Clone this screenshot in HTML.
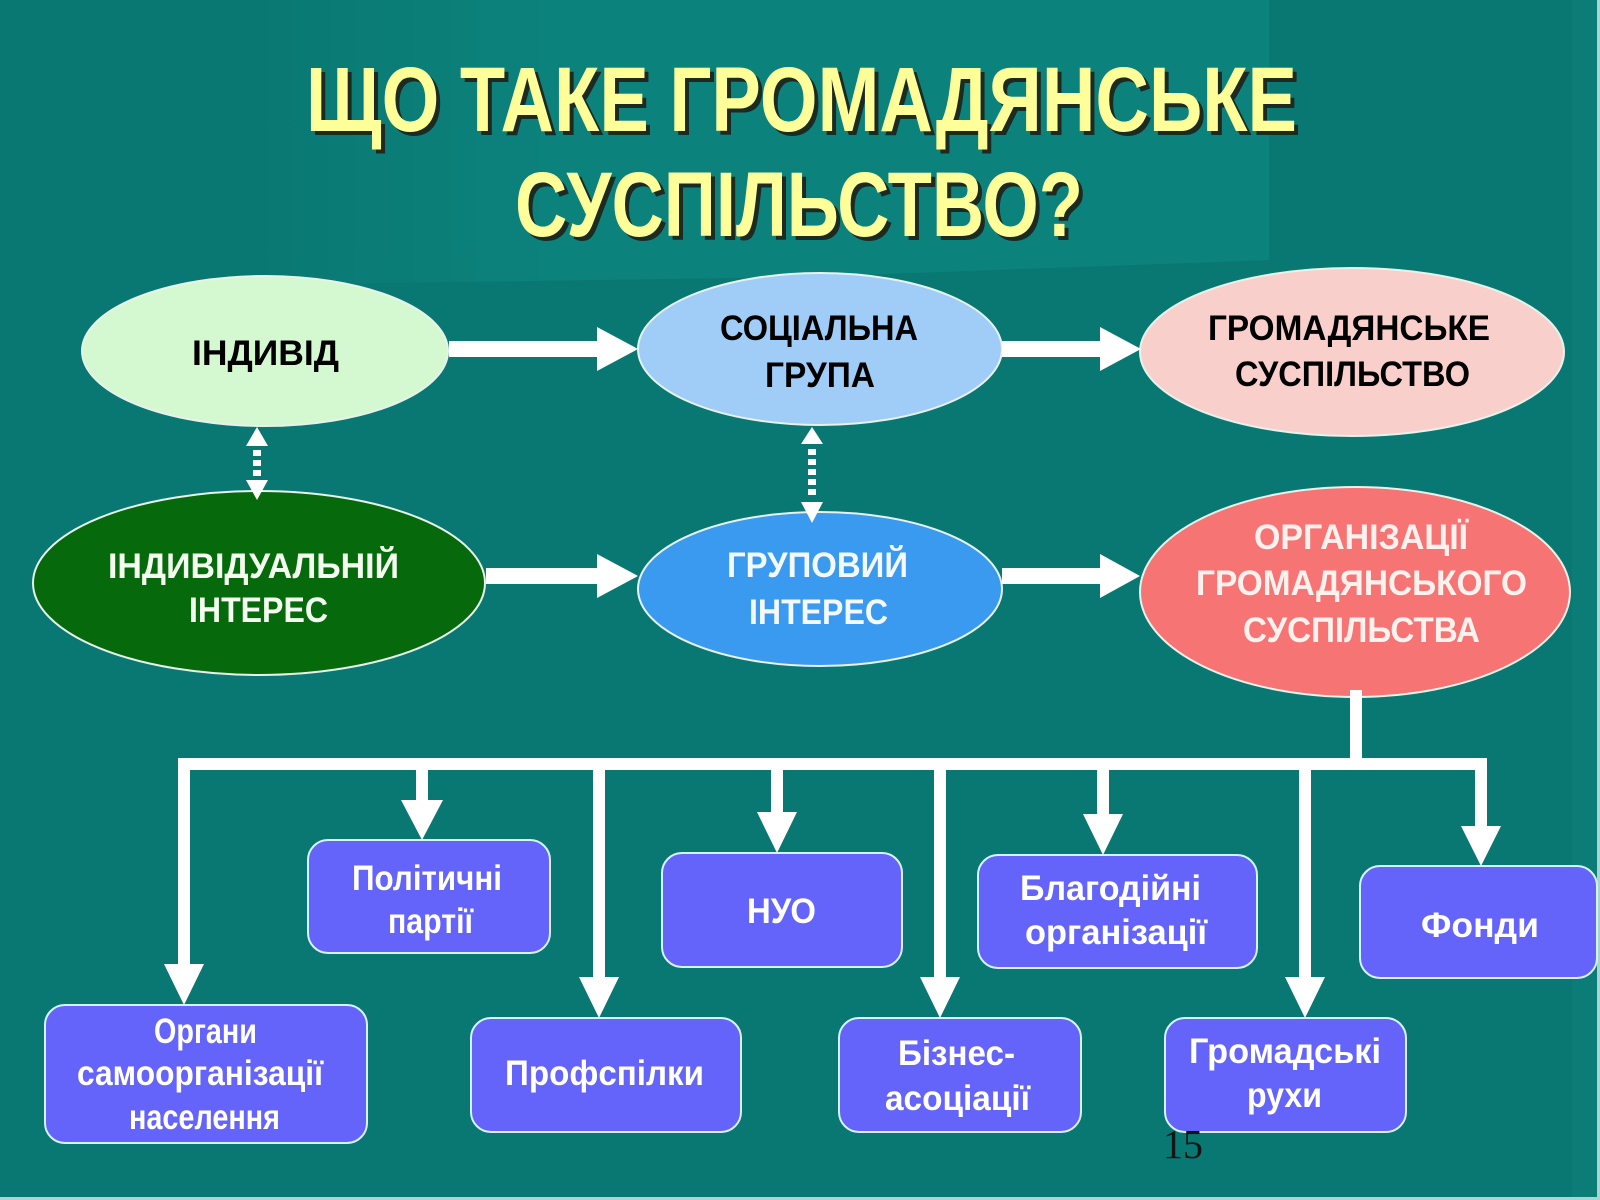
<!DOCTYPE html>
<html>
<head>
<meta charset="utf-8">
<style>
  html,body{margin:0;padding:0;background:#0a7872;}
  svg{display:block;}
  text{font-family:"Liberation Sans","DejaVu Sans",sans-serif;font-weight:bold;}
</style>
</head>
<body>
<svg width="1600" height="1200" viewBox="0 0 1600 1200" xmlns="http://www.w3.org/2000/svg">
  <defs>
    <linearGradient id="band" x1="0" y1="0" x2="1" y2="0">
      <stop offset="0" stop-color="#0c827c" stop-opacity="0"/>
      <stop offset="0.3" stop-color="#0c827c" stop-opacity="1"/>
      <stop offset="1" stop-color="#0c827c" stop-opacity="1"/>
    </linearGradient>
  </defs>
  <!-- background -->
  <rect x="0" y="0" width="1600" height="1200" fill="#0a7872"/>
  <polygon points="250,0 1269,0 1269,260 800,277 250,285" fill="url(#band)"/>
  <rect x="1572" y="0" width="25" height="1197" fill="#0c7d76"/>
  <rect x="1597" y="0" width="3" height="1200" fill="#a8d4d4"/>
  <rect x="0" y="1197" width="1600" height="3" fill="#a8d4d4"/>

  <!-- title -->
  <g font-size="92">
    <text x="310" y="135" textLength="991" lengthAdjust="spacingAndGlyphs" fill="#1c2a22">ЩО ТАКЕ ГРОМАДЯНСЬКЕ</text>
    <text x="519" y="240" textLength="568" lengthAdjust="spacingAndGlyphs" fill="#1c2a22">СУСПІЛЬСТВО?</text>
    <text x="306" y="131" textLength="991" lengthAdjust="spacingAndGlyphs" fill="#ffff99">ЩО ТАКЕ ГРОМАДЯНСЬКЕ</text>
    <text x="515" y="236" textLength="568" lengthAdjust="spacingAndGlyphs" fill="#ffff99">СУСПІЛЬСТВО?</text>
  </g>

  <!-- ellipses -->
  <g stroke="#e6f2ea" stroke-width="2">
    <ellipse cx="265" cy="351" rx="183" ry="75" fill="#d4f9d0"/>
    <ellipse cx="820" cy="349" rx="182" ry="76" fill="#a0ccf8"/>
    <ellipse cx="1352" cy="352" rx="212" ry="84" fill="#f9cfcb"/>
    <ellipse cx="259" cy="583" rx="226" ry="92" fill="#066a0c"/>
    <ellipse cx="820" cy="589" rx="182" ry="77" fill="#3a9af0"/>
    <ellipse cx="1355" cy="592" rx="215" ry="105" fill="#f67574"/>
  </g>

  <!-- horizontal arrows -->
  <g fill="#ffffff">
    <rect x="449" y="341" width="150" height="16"/>
    <polygon points="597,327 638,349 597,371"/>
    <rect x="1002" y="341" width="100" height="16"/>
    <polygon points="1100,327 1141,349 1100,371"/>
    <rect x="486" y="568" width="113" height="16"/>
    <polygon points="597,554 638,576 597,598"/>
    <rect x="1002" y="568" width="100" height="16"/>
    <polygon points="1100,554 1140,576 1100,598"/>
  </g>

  <!-- dashed double arrows -->
  <g fill="#ffffff">
    <polygon points="257,427 246,446 268,446"/>
    <rect x="253" y="450" width="8" height="6"/>
    <rect x="253" y="460" width="8" height="6"/>
    <rect x="253" y="470" width="8" height="6"/>
    <polygon points="246,480 268,480 257,500"/>

    <polygon points="812,427 801,444 823,444"/>
    <rect x="808" y="449" width="8" height="6"/>
    <rect x="808" y="459" width="8" height="6"/>
    <rect x="808" y="469" width="8" height="6"/>
    <rect x="808" y="479" width="8" height="6"/>
    <rect x="808" y="489" width="8" height="6"/>
    <polygon points="801,502 823,502 812,523"/>
  </g>

  <!-- tree connector -->
  <g fill="#ffffff">
    <rect x="1350" y="690" width="12" height="74"/>
    <rect x="178" y="758" width="1309" height="12"/>

    <rect x="178" y="764" width="12" height="201"/>
    <polygon points="164,964 204,964 184,1005"/>

    <rect x="416" y="764" width="12" height="37"/>
    <polygon points="401,800 443,800 422,840"/>

    <rect x="593" y="764" width="12" height="214"/>
    <polygon points="579,977 619,977 599,1018"/>

    <rect x="771" y="764" width="12" height="49"/>
    <polygon points="757,812 797,812 777,853"/>

    <rect x="934" y="764" width="12" height="214"/>
    <polygon points="920,977 960,977 940,1018"/>

    <rect x="1097" y="764" width="12" height="51"/>
    <polygon points="1083,814 1123,814 1103,855"/>

    <rect x="1299" y="764" width="12" height="214"/>
    <polygon points="1285,977 1325,977 1305,1018"/>

    <rect x="1475" y="764" width="12" height="63"/>
    <polygon points="1461,826 1501,826 1481,866"/>
  </g>

  <!-- boxes -->
  <g fill="#6464fa" stroke="#d6f4f4" stroke-width="2">
    <rect x="308" y="840" width="242" height="113" rx="20" ry="20"/>
    <rect x="662" y="853" width="240" height="114" rx="20" ry="20"/>
    <rect x="978" y="855" width="279" height="113" rx="20" ry="20"/>
    <rect x="1360" y="866" width="237" height="112" rx="20" ry="20"/>
    <rect x="45" y="1005" width="322" height="138" rx="20" ry="20"/>
    <rect x="471" y="1018" width="270" height="114" rx="20" ry="20"/>
    <rect x="839" y="1018" width="242" height="114" rx="20" ry="20"/>
    <rect x="1165" y="1018" width="241" height="114" rx="20" ry="20"/>
  </g>

  <!-- ellipse labels -->
  <g font-size="35">
    <text x="192" y="365" textLength="147" lengthAdjust="spacingAndGlyphs" fill="#000">ІНДИВІД</text>
    <text x="720" y="340" textLength="198" lengthAdjust="spacingAndGlyphs" fill="#000">СОЦІАЛЬНА</text>
    <text x="765" y="387" textLength="110" lengthAdjust="spacingAndGlyphs" fill="#000">ГРУПА</text>
    <text x="1208" y="340" textLength="282" lengthAdjust="spacingAndGlyphs" fill="#000">ГРОМАДЯНСЬКЕ</text>
    <text x="1235" y="386" textLength="235" lengthAdjust="spacingAndGlyphs" fill="#000">СУСПІЛЬСТВО</text>

    <text x="108" y="578" textLength="291" lengthAdjust="spacingAndGlyphs" fill="#f4fff0">ІНДИВІДУАЛЬНІЙ</text>
    <text x="189" y="622" textLength="139" lengthAdjust="spacingAndGlyphs" fill="#f4fff0">ІНТЕРЕС</text>
    <text x="727" y="577" textLength="181" lengthAdjust="spacingAndGlyphs" fill="#f4f8ff">ГРУПОВИЙ</text>
    <text x="749" y="624" textLength="139" lengthAdjust="spacingAndGlyphs" fill="#f4f8ff">ІНТЕРЕС</text>
    <text x="1254" y="549" textLength="214" lengthAdjust="spacingAndGlyphs" fill="#fff2ee">ОРГАНІЗАЦІЇ</text>
    <text x="1196" y="595" textLength="331" lengthAdjust="spacingAndGlyphs" fill="#fff2ee">ГРОМАДЯНСЬКОГО</text>
    <text x="1243" y="642" textLength="237" lengthAdjust="spacingAndGlyphs" fill="#fff2ee">СУСПІЛЬСТВА</text>
  </g>

  <!-- box labels -->
  <g font-size="35" fill="#ffffff">
    <text x="352" y="890" textLength="150" lengthAdjust="spacingAndGlyphs">Політичні</text>
    <text x="388" y="933" textLength="85" lengthAdjust="spacingAndGlyphs">партії</text>
    <text x="154" y="1043" textLength="103" lengthAdjust="spacingAndGlyphs">Органи</text>
    <text x="77" y="1085" textLength="246" lengthAdjust="spacingAndGlyphs">самоорганізації</text>
    <text x="129" y="1129" textLength="151" lengthAdjust="spacingAndGlyphs">населення</text>
    <text x="505" y="1085" textLength="199" lengthAdjust="spacingAndGlyphs">Профспілки</text>
    <text x="747" y="923" textLength="69" lengthAdjust="spacingAndGlyphs">НУО</text>
    <text x="898" y="1065" textLength="117" lengthAdjust="spacingAndGlyphs">Бізнес-</text>
    <text x="885" y="1110" textLength="145" lengthAdjust="spacingAndGlyphs">асоціації</text>
    <text x="1020" y="900" textLength="181" lengthAdjust="spacingAndGlyphs">Благодійні</text>
    <text x="1025" y="944" textLength="182" lengthAdjust="spacingAndGlyphs">організації</text>
    <text x="1421" y="937" textLength="118" lengthAdjust="spacingAndGlyphs">Фонди</text>
    <text x="1189" y="1063" textLength="192" lengthAdjust="spacingAndGlyphs">Громадські</text>
    <text x="1247" y="1107" textLength="75" lengthAdjust="spacingAndGlyphs">рухи</text>
  </g>

  <!-- slide number -->
  <text x="1163" y="1158" font-size="41" textLength="40" lengthAdjust="spacingAndGlyphs" fill="#151515" style="font-family:'Liberation Serif',serif;font-weight:normal;">15</text>
</svg>
</body>
</html>
